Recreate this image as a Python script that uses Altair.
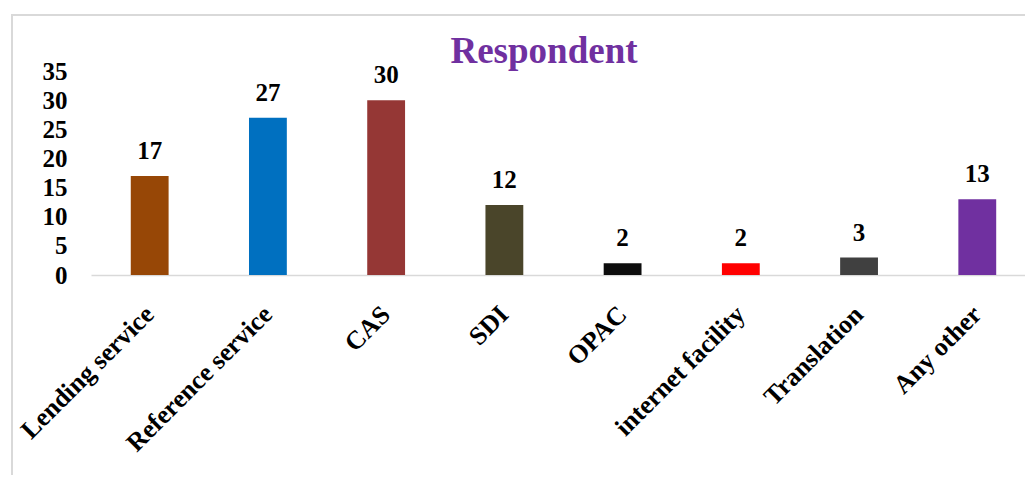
import altair as alt
import pandas as pd

categories = ["Lending service", "Reference service", "CAS", "SDI", "OPAC",
              "internet facility", "Translation", "Any other"]
values = [17, 27, 30, 12, 2, 2, 3, 13]
colors = ["#974706", "#0070C0", "#953735", "#4A452A", "#0D0D0D",
          "#FF0000", "#404040", "#7030A0"]
y_ticks = [0, 5, 10, 15, 20, 25, 30, 35]
title_text = "Respondent"

df = pd.DataFrame({"category": categories, "value": values, "color": colors})

FONT = "Liberation Serif"

x_enc = alt.X(
    "category:N", sort=categories, title=None,
    scale=alt.Scale(paddingInner=0.68, paddingOuter=0.29, align=0.58),
    axis=alt.Axis(labelAngle=-45, labelFont=FONT, labelFontSize=26,
                  labelFontWeight="bold", labelColor="#000000",
                  labelAlign="right", labelBaseline="middle",
                  labelPadding=35, ticks=False, labelLimit=0,
                  domainColor="#D9D9D9", domainWidth=1.5,
                  labelOverlap=False),
)
y_enc = alt.Y(
    "value:Q", title=None,
    scale=alt.Scale(domain=[0, 35]),
    axis=alt.Axis(values=y_ticks, labelFont=FONT, labelFontSize=25,
                  labelFontWeight="bold", labelColor="#000000",
                  labelPadding=24, ticks=False, domain=False, grid=False,
                  labelOverlap=False, labelBaseline="middle"),
)

base = alt.Chart(df).encode(x=x_enc, y=y_enc)

bars = base.mark_bar().encode(
    color=alt.Color("color:N", scale=None, legend=None)
)
labels = base.mark_text(dy=-17, baseline="alphabetic", font=FONT, fontSize=25,
                        fontWeight="bold", color="#000000").encode(
    text="value:Q",
)
border = alt.Chart(pd.DataFrame({"a": [0]})).mark_rect(
    fill=None, stroke="#D9D9D9", strokeWidth=2
).encode(x=alt.value(-79), x2=alt.value(1000), y=alt.value(-56), y2=alt.value(500))

title = alt.Chart(pd.DataFrame({"t": [title_text]})).mark_text(
    font=FONT, fontSize=37, fontWeight="bold", color="#7030A0",
    align="center", baseline="alphabetic"
).encode(text="t:N", x=alt.value(453), y=alt.value(-8))

chart = alt.layer(border, bars, labels, title).properties(
    width=934, height=204,
    padding={"left": 91, "top": 71, "right": 0, "bottom": 200},
    autosize=alt.AutoSizeParams(type="none"),
    background="#FFFFFF",
).configure_view(strokeWidth=0, stroke="transparent")

chart.save("out.html", embed_options={"renderer": "svg", "actions": False})
